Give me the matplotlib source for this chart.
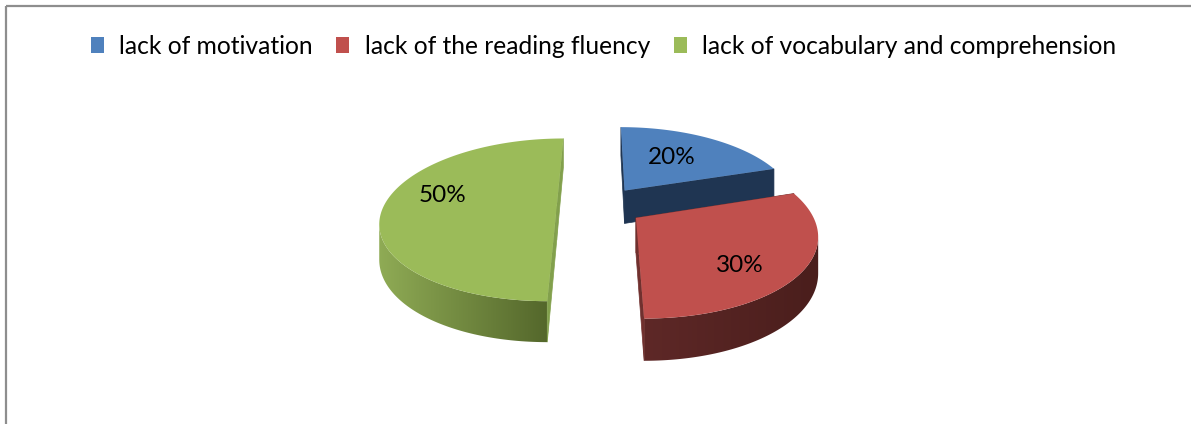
#!/usr/bin/env python

import numpy as np
import matplotlib
matplotlib.use("Agg")
import matplotlib.pyplot as plt
from matplotlib.colors import LinearSegmentedColormap
from matplotlib.patches import Patch, Polygon, Rectangle

categories = ["lack of motivation", "lack of the reading fluency",
              "lack of vocabulary and comprehension"]
values = [20, 30, 50]
value_labels = ["20%", "30%", "50%"]

# top / side colours, side goes from left colour to right colour
top_colors = ["#4f81bd", "#c0504d", "#9bbb59"]
side_left = ["#1f3552", "#5e2827", "#8fab55"]
side_right = ["#1f3552", "#4a1e1c", "#54672b"]
edge_colors = ["#1f3552", "#70302e", "#82a04c"]
label_xy = [(672, 157), (740, 266), (443, 195)]

# pie geometry in pixels, with a simple perspective on the depth axis
CX, CY = 600, 206
RADIUS = 173
TILT = 79
PERSP_Y = 0.17
PERSP_X = 0.18
DEPTH = 34
EXPLODE = 0.25

plt.rcParams['font.family'] = ['Lato', 'DejaVu Sans']


def project(u, v, drop=0.0):
    sx = 1.0 / (1.0 + PERSP_X * v)
    sy = 1.0 / (1.0 + PERSP_Y * v)
    return CX + RADIUS * u * sx, CY - TILT * v * sy + drop * sy


fig = plt.figure(figsize=(11.91, 4.24), dpi=100)
ax = fig.add_axes([0, 0, 1, 1])

ax.add_patch(Rectangle((6, 6), 1400, 600, fill=False, ec="#8e8e8e", lw=1.6))

start = 0.0
wedges = []
for i, val in enumerate(values):
    sweep = 2 * np.pi * val / sum(values)
    wedges.append((i, start, start + sweep))
    start += sweep

# back to front: blue, green, red
for i, a0, a1 in [wedges[0], wedges[2], wedges[1]]:
    mid = (a0 + a1) / 2
    ou, ov = EXPLODE * np.sin(mid), EXPLODE * np.cos(mid)
    th = np.linspace(a0, a1, 181)

    # outline of the slice in disc coordinates
    us = np.concatenate([[ou], ou + np.sin(th)])
    vs = np.concatenate([[ov], ov + np.cos(th)])
    tx, ty = project(us, vs)
    bx, by = project(us, vs, DEPTH)

    # the two flat cut faces
    for b in [1, len(us) - 1]:
        ax.add_patch(Polygon([(tx[0], ty[0]), (tx[b], ty[b]), (bx[b], by[b]), (bx[0], by[0])],
                             closed=True, fc=edge_colors[i], ec=edge_colors[i], lw=0.5))

    # round side: going clockwise the visible part runs right to left
    keep = np.where(np.diff(tx[1:]) < 0)[0]
    if len(keep):
        k0, k1 = keep[0] + 1, keep[-1] + 3
        band = np.concatenate([np.column_stack([tx[k0:k1], ty[k0:k1]]),
                               np.column_stack([bx[k0:k1], by[k0:k1]])[::-1]])
        clip = Polygon(band, closed=True, fc="none", ec="none")
        ax.add_patch(clip)
        cmap = LinearSegmentedColormap.from_list("side", [side_left[i], side_right[i]])
        im = ax.imshow(np.linspace(0, 1, 256).reshape(1, -1), cmap=cmap, aspect="auto",
                       extent=(band[:, 0].min(), band[:, 0].max(), 424, 0))
        im.set_clip_path(clip)

    ax.add_patch(Polygon(np.column_stack([tx, ty]), closed=True,
                         fc=top_colors[i], ec="none"))

ax.set_xlim(0, 1191)
ax.set_ylim(424, 0)
ax.axis("off")

for txt, (x, y) in zip(value_labels, label_xy):
    ax.text(x, y, txt, fontsize=17.5, color="black", ha="center", va="center")

handles = [Patch(fc=c, ec="none", label=n) for c, n in zip(top_colors, categories)]
ax.legend(handles=handles, ncol=3, frameon=False, fontsize=17.7,
          loc="center", bbox_to_anchor=(603.5 / 1191, 1 - 46 / 424),
          handlelength=0.53, handleheight=0.62, handletextpad=0.62,
          columnspacing=0.97, borderpad=0)

fig.savefig("out.png", dpi=100)
